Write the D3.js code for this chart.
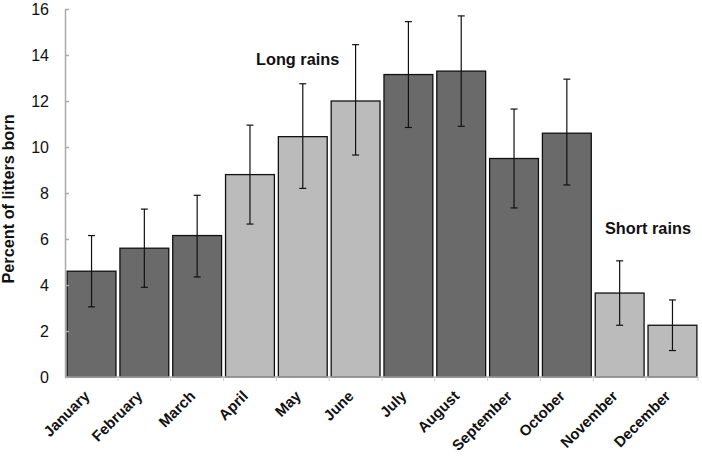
<!DOCTYPE html>
<html>
<head>
<meta charset="utf-8">
<script src="https://cdn.jsdelivr.net/npm/d3@7"></script>
<style>
  body { margin: 0; background: #fff; }
  svg { display: block; font-family: "Liberation Sans", Arial, sans-serif; }
</style>
</head>
<body>
<div id="chart"></div>
<script>
// data
let months = ["January", "February", "March", "April", "May", "June",
              "July", "August", "September", "October", "November", "December"];
let percent = [4.6, 5.6, 6.15, 8.8, 10.45, 12.0, 13.15, 13.3, 9.5, 10.6, 3.65, 2.25];
let errLow  = [3.05, 3.9, 4.35, 6.65, 8.2, 9.65, 10.85, 10.9, 7.35, 8.35, 2.25, 1.15];
let errHigh = [6.15, 7.3, 7.9, 10.95, 12.75, 14.45, 15.45, 15.7, 11.65, 12.95, 5.05, 3.35];
let rainy   = [false, false, false, true, true, true, false, false, false, false, true, true];
let yTicks  = [0, 2, 4, 6, 8, 10, 12, 14, 16];

let width = 702;
let height = 458;
let margin = ({top: 9, right: 3, bottom: 81, left: 65});

let svg = d3.select("#chart")
    .append("svg")
    .attr("width", width)
    .attr("height", height);

let xScale = d3.scaleBand()
    .domain(months)
    .range([margin.left, width - margin.right])
    .paddingInner(0.075)
    .paddingOuter(0.04);

let yScale = d3.scaleLinear()
    .domain([0, 16])
    .range([height - margin.bottom, margin.top]);

let dataSet = months.map(function(m, i) {
    return {month: m, value: percent[i], lo: errLow[i], hi: errHigh[i], rain: rainy[i]};
});

// bars
svg.selectAll(".bar")
    .data(dataSet)
    .enter()
    .append("rect")
    .attr("class", "bar")
    .attr("x", function(d) { return xScale(d.month); })
    .attr("y", function(d) { return yScale(d.value); })
    .attr("width", xScale.bandwidth())
    .attr("height", function(d) { return yScale(0) - yScale(d.value); })
    .attr("fill", function(d) { return d.rain ? "#bbbbbb" : "#6a6a6a"; })
    .attr("stroke", "#111")
    .attr("stroke-width", 1.3);

// y axis (ticks on the inside)
let yAxis = d3.axisRight(yScale)
    .tickValues(yTicks)
    .tickSize(4)
    .tickSizeOuter(0)
    .tickFormat("");

let yG = svg.append("g")
    .attr("transform", "translate(" + margin.left + ",0)")
    .call(yAxis);
yG.selectAll("path, line").attr("stroke", "#aaa").attr("stroke-width", 1.5);

svg.append("g")
    .selectAll(".ylab")
    .data(yTicks)
    .enter()
    .append("text")
    .attr("x", 49)
    .attr("y", function(d) { return yScale(d) + 5.8; })
    .attr("text-anchor", "end")
    .style("font-size", "16px")
    .style("fill", "#111")
    .text(function(d) { return d; });

// x axis line with small ticks between categories
let step = xScale.step();
let xBounds = months.map(function(m) { return xScale(m) - xScale.paddingInner() * step / 2; });
xBounds.push(width - margin.right - 1);

svg.append("line")
    .attr("x1", margin.left)
    .attr("x2", width - margin.right - 1)
    .attr("y1", yScale(0))
    .attr("y2", yScale(0))
    .attr("stroke", "#aaa")
    .attr("stroke-width", 1.5);

svg.selectAll(".xtick")
    .data(xBounds.slice(1))
    .enter()
    .append("line")
    .attr("x1", function(d) { return d; })
    .attr("x2", function(d) { return d; })
    .attr("y1", yScale(0))
    .attr("y2", yScale(0) + 4)
    .attr("stroke", "#ccc");

// error bars
let capW = 3.5;
let errG = svg.append("g").attr("stroke", "#111").attr("stroke-width", 1.2);
dataSet.forEach(function(d) {
    let cx = xScale(d.month) + xScale.bandwidth() / 2;
    errG.append("line")
        .attr("x1", cx).attr("x2", cx)
        .attr("y1", yScale(d.lo)).attr("y2", yScale(d.hi));
    errG.append("line")
        .attr("x1", cx - capW).attr("x2", cx + capW)
        .attr("y1", yScale(d.hi)).attr("y2", yScale(d.hi));
    errG.append("line")
        .attr("x1", cx - capW).attr("x2", cx + capW)
        .attr("y1", yScale(d.lo)).attr("y2", yScale(d.lo));
});

// month labels, rotated
svg.selectAll(".xlab")
    .data(months)
    .enter()
    .append("text")
    .attr("transform", function(d) {
        let cx = xScale(d) + xScale.bandwidth() / 2 - 1;
        return "translate(" + cx + "," + (yScale(0) + 20) + ") rotate(-45)";
    })
    .attr("text-anchor", "end")
    .style("font-size", "15px")
    .style("font-weight", "bold")
    .style("fill", "#111")
    .text(function(d) { return d; });

// y axis title
svg.append("text")
    .attr("transform", "translate(14,199) rotate(-90)")
    .attr("text-anchor", "middle")
    .style("font-size", "16.3px")
    .style("font-weight", "bold")
    .style("fill", "#111")
    .text("Percent of litters born");

// annotations
svg.append("text")
    .attr("x", 256)
    .attr("y", 65)
    .style("font-size", "16.3px")
    .style("font-weight", "bold")
    .style("fill", "#111")
    .text("Long rains");

svg.append("text")
    .attr("x", 605)
    .attr("y", 233.5)
    .style("font-size", "16.3px")
    .style("font-weight", "bold")
    .style("fill", "#111")
    .text("Short rains");
</script>
</body>
</html>
